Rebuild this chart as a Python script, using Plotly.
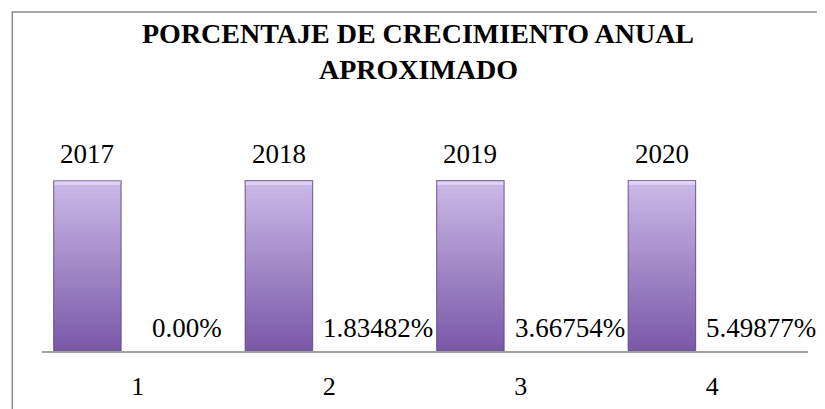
import plotly.graph_objects as go

# ---- data ----
categories = [1, 2, 3, 4]
years = [2017, 2018, 2019, 2020]
growth_pct = [0.0, 1.83482, 3.66754, 5.49877]
growth_labels = ["0.00%", "1.83482%", "3.66754%", "5.49877%"]
title_lines = ["PORCENTAJE DE CRECIMIENTO ANUAL", "APROXIMADO"]

FONT = "Liberation Serif"
OFF = 8                      # page body margin offset
W, H = 825 - OFF, 409 - OFF  # figure size so it fits the window

# plot area (figure pixel coords)
l, r, t, b = 41.7 - OFF, 17.3, 140 - OFF, 58
pw, ph = W - l - r, H - t - b


def px(xref_px):
    return (xref_px - OFF - l) / pw


def py(yref_px):
    return (H - b - (yref_px - OFF)) / ph


fig = go.Figure()

# gradient bars for the year series, drawn as stacked slices of each bar
N = 40
bottom = (122, 88, 168)
top = (203, 186, 232)
bevel = (222, 212, 242)
year_offset, year_width = -0.439, 0.352
for i in range(N):
    tt = (i + 0.5) / N
    if tt > 0.965:
        c = bevel
    else:
        c = tuple(int(round(bottom[k] + (top[k] - bottom[k]) * tt)) for k in range(3))
    fig.add_trace(go.Bar(
        x=categories,
        y=[min(v * (i + 1.8) / N, v) - v * i / N for v in years],
        base=[v * i / N for v in years],
        offset=year_offset, width=year_width,
        marker=dict(color="rgb(%d,%d,%d)" % c, line=dict(width=0)),
        showlegend=False, hoverinfo="skip",
    ))
# outline of the year bars
fig.add_trace(go.Bar(
    x=categories, y=years, offset=year_offset, width=year_width,
    marker=dict(color="rgba(0,0,0,0)", line=dict(color="rgba(95,75,130,0.75)", width=1.2)),
    showlegend=False, hoverinfo="skip",
))
# growth series (values are tiny relative to the axis, as in the original)
fig.add_trace(go.Bar(
    x=categories, y=[p / 100 for p in growth_pct], offset=0.08, width=0.352,
    marker=dict(color="rgb(122,88,168)", line=dict(width=0)),
    showlegend=False, hoverinfo="skip",
))

# labels
for c, v in zip(categories, years):
    fig.add_annotation(x=c + year_offset + year_width / 2, y=v, text=str(v),
                       showarrow=False, yanchor="middle", yshift=26.5,
                       font=dict(family=FONT, size=27, color="#000"))
for c, p, lab in zip(categories, growth_pct, growth_labels):
    fig.add_annotation(x=c + 0.256, y=p / 100, text=lab,
                       showarrow=False, yanchor="middle", yshift=23,
                       font=dict(family=FONT, size=27, color="#000"))

# title (two centred lines)
for line, yc in zip(title_lines, [34, 70]):
    fig.add_annotation(xref="paper", yref="paper", x=px(418), y=py(yc), text="<b>%s</b>" % line,
                       showarrow=False, xanchor="center", yanchor="middle",
                       font=dict(family=FONT, size=28, color="#000"))

# chart border
fig.add_shape(type="rect", xref="paper", yref="paper",
              x0=px(12), x1=px(824), y0=py(460), y1=py(12),
              line=dict(color="#8a8a8a", width=1.5), fillcolor="rgba(0,0,0,0)")

fig.update_layout(
    width=W, height=H,
    margin=dict(l=l, r=r, t=t, b=b, autoexpand=False),
    paper_bgcolor="white", plot_bgcolor="white",
    barmode="overlay", showlegend=False,
    xaxis=dict(range=[0.5, 4.5], tickmode="array", tickvals=categories,
               ticktext=[str(c) for c in categories], showgrid=False, zeroline=False,
               showline=True, linecolor="#a0a0a0", linewidth=2, ticks="",
               ticklabelstandoff=11,
               tickfont=dict(family=FONT, size=26, color="#000")),
    yaxis=dict(range=[0, 2500], visible=False, showgrid=False, zeroline=False),
)

fig.write_html("out.html")
